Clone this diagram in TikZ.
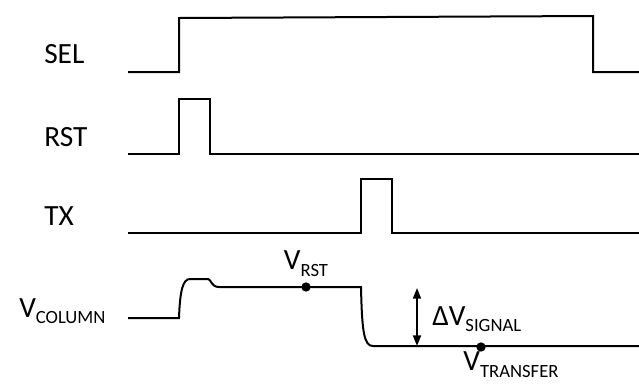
\documentclass[tikz,border=0pt]{standalone}
\usepackage{fontspec}
\setmainfont{Carlito}
\usetikzlibrary{positioning, arrows.meta}
\newcommand{\sublabel}[1]{\raisebox{-5pt}{\fontsize{14}{14}\selectfont #1}}
\tikzset{
    signal/.style={line width=1.5pt, line join=miter}, % waveform lines
    signame/.style={anchor=base west, inner sep=0pt, font=\fontsize{22}{26}\selectfont}, % names on the left
    level/.style={circle, fill=black, inner sep=0pt, minimum size=7pt}, % sampled voltage points
    vlabel/.style={inner sep=0pt, font=\fontsize{22}{26}\selectfont}, % names of the levels
}

\begin{document}
\begin{tikzpicture}[x=0.75pt, y=-0.75pt]
    \useasboundingbox (0,0) rectangle (639,383);

    % signal names
    \node[signame] (sel) at (44,63) {SEL};
    \node[signame] (rst) at (44,146) {RST};
    \node[signame] (tx) at (44,225) {TX};
    \node[signame] (vcol) at (19,317) {V\sublabel{COLUMN}};

    % waveforms
    \draw[signal] (128,72) -- (179,72) -- (179,18) -- (593,16) -- (593,72) -- (639,72);
    \draw[signal] (128,154) -- (179,154) -- (179,99) -- (210,99) -- (210,154) -- (639,154);
    \draw[signal] (128,233) -- (361,233) -- (361,179) -- (392,179) -- (392,233) -- (639,233);
    \draw[signal] (128,318) -- (179,318) .. controls (180,290) and (183,279) .. (190,279) -- (208,279)
        .. controls (211,279) and (211,287) .. (219,287) -- (361,287)
        .. controls (362,332) and (364,346) .. (373,346) -- (639,346);

    % sampled levels
    \node[level] (vrst) at (306,287) {};
    \node[level] (vtr) at (481,347) {};
    \node[vlabel, above=4pt of vrst] (vrstlbl) {V\sublabel{RST}};
    \node[vlabel, below right=1pt and -16pt of vtr] (vtrlbl) {V\sublabel{TRANSFER}};

    % signal swing
    \coordinate (dtop) at (417,288);
    \coordinate (dbot) at (417,346);
    \draw[line width=1.4pt, {Triangle[length=8pt,width=6pt]}-{Triangle[length=8pt,width=6pt]}] (dtop) -- (dbot);
    \node[signame] (dsig) at (432,325) {ΔV\sublabel{SIGNAL}};
\end{tikzpicture}
\end{document}
